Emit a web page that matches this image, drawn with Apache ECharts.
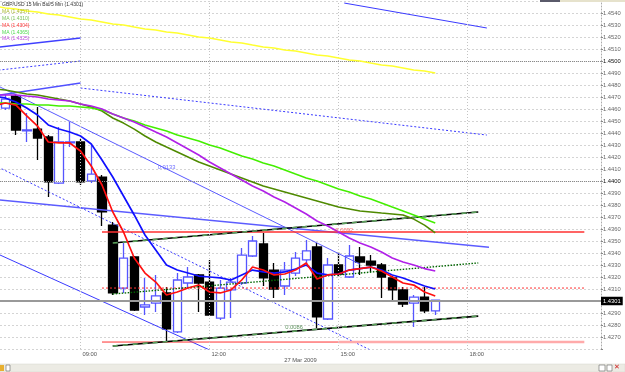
<!DOCTYPE html>
<html><head><meta charset="utf-8">
<script src="https://cdn.jsdelivr.net/npm/echarts@6/dist/echarts.min.js"></script>
<style>html,body{margin:0;padding:0;background:#fff}#c{width:625px;height:372px}</style>
</head><body><div id="c"></div>
<script>
// ---- candles (15 min) ----
const candleTimes = ["07:15","07:30","07:45","08:00","08:15","08:30","08:45","09:00","09:15","09:30","09:45","10:00","10:15","10:30","10:45","11:00","11:15","11:30","11:45","12:00","12:15","12:30","12:45","13:00","13:15","13:30","13:45","14:00","14:15","14:30","14:45","15:00","15:15","15:30","15:45","16:00","16:15","16:30","16:45","17:00","17:15"];
const opens  = [1.44608,1.44708,1.44417,1.44433,1.44367,1.43983,1.44317,1.44325,1.44000,1.44033,1.43633,1.43108,1.43367,1.42950,1.42983,1.43067,1.42742,1.43150,1.43217,1.43158,1.42858,1.43092,1.43150,1.43375,1.43475,1.43258,1.43125,1.43233,1.43342,1.43450,1.42850,1.43300,1.43200,1.43367,1.43333,1.43300,1.43192,1.43092,1.42983,1.43033,1.42917];
const closes = [1.44683,1.44425,1.44425,1.44358,1.43992,1.44325,1.44325,1.43992,1.44058,1.43742,1.43067,1.43358,1.42925,1.42967,1.43042,1.42767,1.43175,1.43200,1.43150,1.42883,1.43108,1.43158,1.43383,1.43500,1.43192,1.43100,1.43258,1.43358,1.43417,1.42867,1.43300,1.43225,1.43375,1.43325,1.43300,1.43200,1.43092,1.42975,1.43033,1.42917,1.43008];
const lows   = [1.44592,1.44383,1.44325,1.44175,1.43867,1.43975,1.44283,1.43967,1.43983,1.43625,1.43050,1.43067,1.42917,1.42883,1.42908,1.42658,1.42733,1.43108,1.42908,1.42875,1.42842,1.42858,1.43133,1.43367,1.43125,1.43025,1.43050,1.43208,1.43317,1.42775,1.42842,1.43200,1.43192,1.43217,1.43242,1.43025,1.42992,1.42950,1.42783,1.42900,1.42883];
const highs  = [1.44717,1.44725,1.44567,1.44617,1.44383,1.44450,1.44492,1.44350,1.44300,1.44050,1.43658,1.43483,1.43375,1.43192,1.43217,1.43117,1.43233,1.43283,1.43225,1.43342,1.43175,1.43192,1.43442,1.43542,1.43567,1.43317,1.43325,1.43408,1.43508,1.43483,1.43358,1.43408,1.43467,1.43450,1.43383,1.43317,1.43208,1.43117,1.43050,1.43117,1.43008];

// ---- moving averages ----
const maTimes = ["07:00"].concat(candleTimes);
const maRed    = [1.44625,1.44650,1.44633,1.44542,1.44458,1.44325,1.44317,1.44317,1.44250,1.44125,1.43967,1.43742,1.43575,1.43358,1.43233,1.43158,1.43050,1.43075,1.43108,1.43133,1.43075,1.43067,1.43092,1.43175,1.43283,1.43258,1.43217,1.43225,1.43258,1.43317,1.43183,1.43217,1.43225,1.43258,1.43270,1.43283,1.43250,1.43200,1.43150,1.43133,1.43075,1.43042];
const maBlue   = [1.44708,1.44692,1.44658,1.44608,1.44550,1.44467,1.44433,1.44408,1.44375,1.44308,1.44175,1.44033,1.43875,1.43717,1.43550,1.43425,1.43300,1.43258,1.43233,1.43208,1.43200,1.43192,1.43175,1.43217,1.43258,1.43242,1.43233,1.43242,1.43267,1.43300,1.43233,1.43217,1.43225,1.43258,1.43270,1.43283,1.43258,1.43217,1.43192,1.43158,1.43125,1.43100];
const maPurple = [1.44717,1.44717,1.44717,1.44708,1.44700,1.44683,1.44675,1.44667,1.44642,1.44625,1.44600,1.44558,1.44525,1.44492,1.44450,1.44408,1.44367,1.44317,1.44267,1.44217,1.44158,1.44108,1.44058,1.44008,1.43958,1.43917,1.43867,1.43825,1.43775,1.43725,1.43667,1.43625,1.43575,1.43525,1.43483,1.43450,1.43408,1.43358,1.43325,1.43300,1.43270,1.43250];
const maGreen  = [1.44650,1.44650,1.44642,1.44642,1.44633,1.44633,1.44625,1.44625,1.44617,1.44608,1.44592,1.44558,1.44525,1.44500,1.44467,1.44442,1.44417,1.44383,1.44358,1.44333,1.44300,1.44275,1.44242,1.44208,1.44183,1.44150,1.44125,1.44092,1.44058,1.44025,1.44000,1.43967,1.43933,1.43908,1.43875,1.43850,1.43817,1.43783,1.43750,1.43717,1.43683,1.43650];
const maOlive  = [1.44767,1.44758,1.44742,1.44725,1.44717,1.44700,1.44683,1.44667,1.44642,1.44617,1.44583,1.44525,1.44483,1.44433,1.44375,1.44325,1.44283,1.44242,1.44200,1.44158,1.44125,1.44092,1.44058,1.44025,1.43992,1.43958,1.43933,1.43908,1.43883,1.43858,1.43833,1.43808,1.43783,1.43767,1.43750,1.43742,1.43733,1.43725,1.43717,1.43683,1.43633,1.43567];
const maYellow = [1.45458,1.45442,1.45433,1.45417,1.45408,1.45392,1.45383,1.45367,1.45350,1.45342,1.45325,1.45308,1.45300,1.45283,1.45267,1.45258,1.45242,1.45233,1.45217,1.45200,1.45192,1.45175,1.45158,1.45150,1.45133,1.45117,1.45108,1.45092,1.45083,1.45067,1.45050,1.45042,1.45025,1.45008,1.45000,1.44983,1.44967,1.44958,1.44942,1.44925,1.44917,1.44900];

// ---- drawn trend lines / levels [time, price] ----
const trendBlueTop     = [["15:08",1.45483],["18:27",1.45275]];
const trendBlueA       = [["07:00",1.45112],["09:00",1.45192]];
const trendBlueDotB    = [["07:00",1.44920],["09:00",1.45000]];
const trendBlueC       = [["07:00",1.44710],["09:00",1.44817]];
const trendBlueDotLong = [["09:00",1.44775],["18:27",1.44383]];
const trendBlueFall    = [["07:00",1.44806],["15:30",1.43307]];
const trendBlueMid     = [["07:00",1.43846],["18:30",1.43448]];
const trendBlueDotFall = [["07:00",1.44131],["15:45",1.42590]];
const trendBlueLow     = [["07:00",1.43404],["12:00",1.42592]];
const chanLow  = [["09:45",1.42625],["18:15",1.42874]];
const chanHigh = [["09:45",1.43483],["18:15",1.43742]];
const chanMid  = [["09:45",1.43058],["18:15",1.43317]];
const levelRed     = [["09:30",1.43575],["20:43",1.43575]];
const levelRedDot  = [["09:30",1.43108],["20:43",1.43108]];
const levelLow     = [["09:30",1.42658],["15:00",1.42658]];
const levelLowPink = [["15:00",1.42658],["20:43",1.42658]];
const annotations = [
  {t:"11:00", p:1.44117, text:"0.0133", color:"#4b4bff"},
  {t:"15:08", p:1.43592, text:"0.0092", color:"#ff4040"},
  {t:"13:58", p:1.42783, text:"0.0086", color:"#3a7a3a"}
];
const timeTicks = [9, 12, 15, 18];
const legendLines = [
  {text:"GBP/USD 15 Min Bid/5 Min (1.4301)", color:"#333"},
  {text:"MA (1.4357)", color:"#a8b830"},
  {text:"MA (1.4310)", color:"#7cc35a"},
  {text:"MA (1.4304)", color:"#ff4040"},
  {text:"MA (1.4365)", color:"#4fd84f"},
  {text:"MA (1.4325)", color:"#c050e0"}
];

const toH = s => { const [a,b] = s.split(":").map(Number); return a + b/60; };
const pts = arr => arr.map(d => [toH(d[0]), d[1]]);
const FONT = 'Arial, "Liberation Sans", sans-serif';

const candleData = candleTimes.map((t,i)=>[toH(t), opens[i], closes[i], lows[i], highs[i]]);
const maSeries = (data, color, width, z) => ({
  type:'line', data: maTimes.map((t,i)=>[toH(t), data[i]]), showSymbol:false, symbol:'none',
  lineStyle:{color, width}, z, silent:true, animation:false
});
const seg = (arr, color, width, type, z) => ({
  type:'line', data: pts(arr), showSymbol:false, symbol:'none',
  lineStyle:{color, width, type: type || 'solid'}, z: z || 3, silent:true, animation:false
});

const lastPrice = closes[closes.length-1];

const series = [
  // grid helpers
  {type:'line', data:[], silent:true, z:1, markLine:{silent:true, symbol:'none', animation:false,
    label:{show:false},
    data: timeTicks.map(v=>({xAxis:v})),
    lineStyle:{color:'#c4c4c4', type:[1,2], width:1}}},
  {type:'line', data:[], silent:true, z:1, markLine:{silent:true, symbol:'none', animation:false,
    label:{show:false},
    data: [{yAxis:1.44},{yAxis:1.45}],
    lineStyle:{color:'#8a8a8a', type:[1,1], width:1}}},
  // candles
  {type:'candlestick', data:candleData, encode:{x:0, y:[1,2,3,4]}, barWidth:9, z:2, silent:true, animation:false,
    itemStyle:{color:'#ffffff', color0:'#000000', borderColor:'#5555ff', borderColor0:'#000000', borderWidth:1.3}},
  // current price line
  {type:'line', data:[], silent:true, z:2, markLine:{silent:true, symbol:'none', animation:false,
    data:[{yAxis:lastPrice}],
    lineStyle:{color:'#999999', type:'solid', width:2},
    label:{show:true, position:'end', distance:0, formatter: lastPrice.toFixed(4), backgroundColor:'#000',
      color:'#fff', fontSize:5.8, fontFamily:FONT, padding:[1.5,2,1,2]}}},
  // trend lines
  seg(trendBlueTop, '#3a3aff', 1),
  seg(trendBlueA, '#4040ff', 1.6),
  seg(trendBlueDotB, '#3a3aff', 1, [2,2]),
  seg(trendBlueC, '#5050ff', 1.4),
  seg(trendBlueDotLong, '#3a3aff', 1, [2,2]),
  seg(trendBlueFall, '#5a5aff', 1),
  seg(trendBlueMid, '#5c5cff', 1.6),
  seg(trendBlueDotFall, '#3a3aff', 1, [2,2]),
  seg(trendBlueLow, '#3a3aff', 1),
  seg(levelRed, '#ff3030', 1.3),
  seg(levelRedDot, '#ff3030', 1, [2,2]),
  seg(levelLow, '#ff3030', 1),
  seg(levelLowPink, '#ffaaaa', 2.5),
  seg(chanLow, '#000000', 1.6, 'solid', 4),
  seg(chanLow, '#5aa05a', 1.6, [5,5], 4),
  seg(chanHigh, '#000000', 1.6, 'solid', 4),
  seg(chanHigh, '#5aa05a', 1.6, [5,5], 4),
  seg(chanMid, '#006600', 1.4, [1.5,1.5], 4),
  // moving averages
  maSeries(maYellow, '#ffff30', 1.5, 5),
  maSeries(maOlive, '#4f8a00', 1.5, 5),
  maSeries(maGreen, '#44ee00', 1.5, 5),
  maSeries(maPurple, '#b020e8', 1.6, 5),
  maSeries(maBlue, '#1010ff', 1.7, 6),
  maSeries(maRed, '#ff1010', 1.7, 7),
  // annotation texts
  {type:'scatter', z:8, silent:true, animation:false, symbolSize:1, itemStyle:{color:'rgba(0,0,0,0)'},
    data: annotations.map(a=>({value:[toH(a.t), a.p], name:a.text, label:{color:a.color}})),
    label:{show:true, position:'inside', formatter:'{b}', fontSize:5.8, fontFamily:FONT}}
];

const chart = echarts.init(document.getElementById('c'), null, {renderer:'canvas'});
chart.setOption({
  animation:false,
  backgroundColor:'#ffffff',
  grid:{left:0, right:24, top:1, bottom:23, outerBoundsMode:'none', containLabel:false},
  xAxis:{type:'value', min:9-80.5/43, max:9+520.5/43,
    axisLine:{show:false}, axisTick:{show:false}, splitLine:{show:false},
    axisLabel:{customValues:timeTicks, showMinLabel:true, showMaxLabel:true, align:'left', margin:2, padding:[0,0,0,2],
      fontSize:5.8, fontFamily:FONT, color:'#555',
      formatter: v => (v<10?'0':'') + Math.round(v) + ':00'}},
  yAxis:{type:'value', position:'right', min:1.426, max:1.455, interval:0.001, scale:true,
    axisLine:{show:true, lineStyle:{color:'#aaaaaa', type:[1,2]}},
    axisTick:{show:true, length:2, lineStyle:{color:'#888'}},
    splitLine:{show:true, lineStyle:{color:'#d4d4d4', type:[2,2], width:1}},
    axisLabel:{margin:2, fontSize:5.8, fontFamily:FONT,
      color: v => (Math.abs(v-1.44)<1e-7 || Math.abs(v-1.45)<1e-7) ? '#111' : '#666',
      formatter: v => (v<1.4265 || v>1.4545) ? '' : v.toFixed(4)}},
  graphic:[
    {type:'text', x:300.5, y:357, z:10, style:{text:'27 Mar 2009', align:'center', fontSize:5.8, fontFamily:FONT, fill:'#555'}},
    ...legendLines.map((l,i)=>({type:'text', x:2, y:2.5+i*6.8, z:10,
      style:{text:l.text, fontSize:5, fontFamily:FONT, fill:l.color}})),
    {type:'rect', shape:{x:0, y:364, width:625, height:8}, z:10, style:{fill:'#ecebe4', stroke:'#d6d5cc', lineWidth:0.5}},
    {type:'rect', shape:{x:0, y:365, width:4, height:6}, z:11, style:{fill:'#e8b030'}},
    {type:'rect', shape:{x:6, y:365, width:4, height:6}, z:11, style:{fill:'#fff', stroke:'#666', lineWidth:0.6}},
    {type:'rect', shape:{x:599, y:365, width:6, height:6}, z:11, style:{fill:'#fff', stroke:'#666', lineWidth:0.6}},
    {type:'rect', shape:{x:607, y:365, width:5, height:6}, z:11, style:{fill:'#fff', stroke:'#666', lineWidth:0.6}},
    {type:'text', x:614, y:364, z:11, style:{text:'✕', fontSize:7, fill:'#d02020', fontFamily:FONT}},
    {type:'rect', shape:{x:540, y:0, width:20, height:2}, z:11, style:{fill:'#5a5a6a'}},
    {type:'rect', shape:{x:560, y:0, width:65, height:2}, z:11, style:{fill:'#e6e2cc'}}
  ],
  series
});
</script></body></html>
